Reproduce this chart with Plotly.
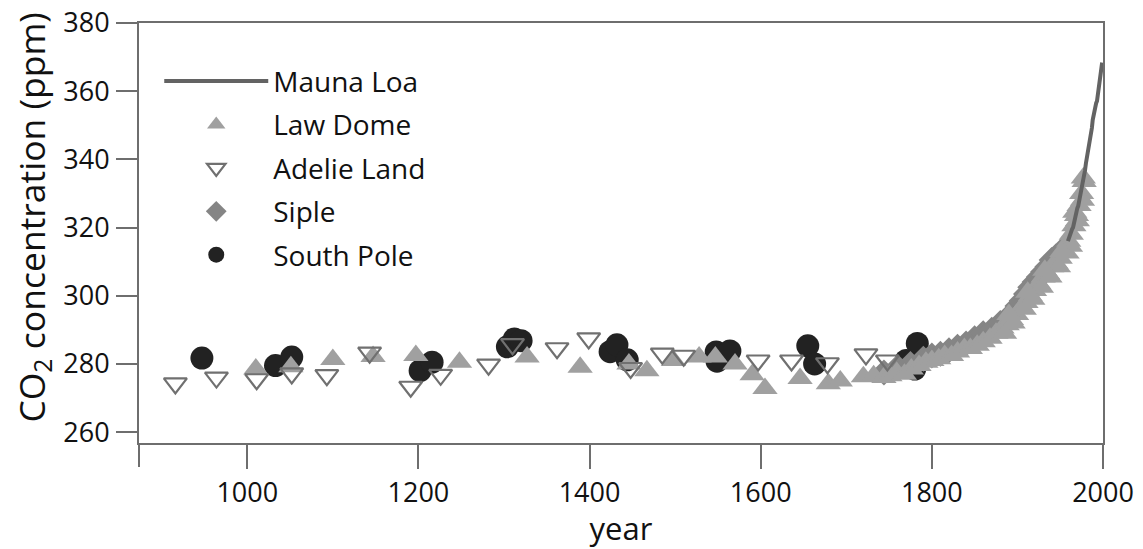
import plotly.graph_objects as go

# ---------------- data ----------------
mauna_loa_year = [1959, 1960, 1961, 1962, 1963, 1964, 1965, 1966, 1967, 1968, 1969,
                  1970, 1971, 1972, 1973, 1974, 1975, 1976, 1977, 1978, 1979, 1980,
                  1981, 1982, 1983, 1984, 1985, 1986, 1987, 1988, 1989, 1990, 1991,
                  1992, 1993, 1994, 1995, 1996, 1997, 1998, 1999]
mauna_loa_co2 = [316.0, 316.9, 317.6, 318.5, 319.0, 319.6, 320.0, 321.4, 322.2, 323.0, 324.6,
                 325.7, 326.3, 327.5, 329.7, 330.2, 331.1, 332.0, 333.8, 335.4, 336.8, 338.8,
                 340.1, 341.5, 343.1, 344.7, 346.1, 347.4, 349.2, 351.6, 353.1, 354.4, 355.6,
                 356.5, 357.1, 358.8, 360.8, 362.6, 363.7, 366.7, 368.4]

law_dome_year = [1010, 1051, 1100, 1147, 1197, 1248, 1327, 1389, 1446, 1467, 1498, 1528,
                 1547, 1570, 1590, 1605, 1646, 1679, 1693, 1720, 1732, 1744, 1751, 1759,
                 1768, 1776, 1785, 1793, 1800, 1808, 1815, 1823, 1830, 1838, 1845, 1853,
                 1860, 1868, 1875, 1882, 1888, 1893, 1899, 1905, 1910, 1915, 1920, 1925,
                 1930, 1935, 1940, 1945, 1950, 1955, 1960, 1963, 1966, 1969, 1972, 1975, 1978,
                 1885, 1895, 1908, 1918, 1928, 1938, 1948, 1958, 1962, 1970, 1976,
                 1890, 1912, 1932, 1952, 1967, 1977]
law_dome_co2 = [278.5, 279.2, 281.3, 282.2, 282.5, 280.5, 282.0, 279.0, 280.0, 278.0, 281.0, 282.0,
                282.0, 280.0, 276.8, 272.8, 275.7, 274.2, 275.0, 276.2, 276.5, 276.0, 276.5, 277.5,
                277.0, 278.5, 279.5, 280.5, 281.0, 281.5, 282.5, 282.5, 283.5, 284.5, 284.5, 285.5,
                286.5, 287.5, 289.0, 290.5, 291.5, 293.0, 294.5, 296.5, 298.0, 300.0, 301.5, 303.5,
                305.5, 306.5, 308.5, 309.5, 311.0, 313.0, 316.0, 318.0, 320.5, 323.5, 326.5, 330.0, 333.5,
                289.0, 292.0, 296.0, 299.0, 302.5, 305.5, 308.5, 312.5, 314.5, 322.0, 328.0,
                294.5, 301.0, 307.5, 313.0, 324.5, 334.5]

adelie_year = [916, 964, 1011, 1052, 1093, 1143, 1191, 1226, 1282, 1310, 1362, 1399,
               1448, 1485, 1510, 1597, 1636, 1678, 1723, 1748]
adelie_co2 = [274.3, 276.0, 275.5, 277.2, 276.7, 283.3, 273.3, 276.8, 279.8, 285.8, 284.6, 287.5,
              278.8, 283.0, 282.4, 281.0, 281.0, 280.2, 282.8, 281.0]

siple_year = [1744, 1760, 1775, 1790, 1800, 1810, 1820, 1830, 1840, 1850, 1860, 1870,
              1880, 1890, 1900, 1905, 1910, 1915, 1920, 1925, 1930, 1935, 1940, 1945, 1953]
siple_co2 = [277.5, 279.0, 280.0, 281.5, 282.5, 283.0, 284.0, 285.0, 286.0, 287.5, 289.0, 290.0,
             292.0, 294.0, 297.0, 298.5, 300.5, 302.5, 304.0, 305.5, 307.0, 308.5, 310.5, 311.5, 313.5]

south_pole_year = [947, 1033, 1052, 1202, 1216, 1304, 1312, 1320, 1424, 1432, 1444,
                   1548, 1549, 1564, 1655, 1663, 1770, 1780, 1783]
south_pole_co2 = [281.7, 279.5, 282.0, 278.0, 280.5, 285.0, 287.3, 286.8, 283.6, 285.6, 281.2,
                  283.5, 280.8, 283.8, 285.3, 280.0, 281.0, 278.5, 286.0]

x_tick_vals = [1000, 1200, 1400, 1600, 1800, 2000]
y_tick_vals = [260, 280, 300, 320, 340, 360, 380]

# ---------------- styling ----------------
AXIS_GREY = "#6e6e6e"
TEXT = "#111111"
FONT = "Open Sans"
X_MIN, X_MAX = 873.5, 2000
Y_MIN, Y_MAX = 256.8, 380
W, H = 1143, 549
M_L, M_R, M_T, M_B = 138.5, 39.5, 23, 106
PLOT_W = W - M_L - M_R
PLOT_H = H - M_T - M_B

fig = go.Figure()

# drawing order: South Pole (bottom), Siple, Law Dome, Adelie, Mauna Loa (top)
fig.add_trace(go.Scatter(
    x=south_pole_year, y=south_pole_co2, mode="markers", name="South Pole",
    legendrank=5, legendgroup="sp",
    marker=dict(symbol="circle", size=23, color="#222222", line=dict(width=0))))
fig.add_trace(go.Scatter(
    x=siple_year, y=siple_co2, mode="markers", name="Siple",
    legendrank=4, legendgroup="si",
    marker=dict(symbol="diamond", size=20, color="#858585", line=dict(width=0))))
fig.add_trace(go.Scatter(
    x=law_dome_year, y=law_dome_co2, mode="markers", name="Law Dome",
    legendrank=2, legendgroup="ld",
    marker=dict(symbol="triangle-up", size=22, color="#a0a0a0", line=dict(width=0))))
fig.add_trace(go.Scatter(
    x=adelie_year, y=adelie_co2, mode="markers", name="Adelie Land",
    legendrank=3, legendgroup="al",
    marker=dict(symbol="triangle-down-open", size=20, color="#707070", line=dict(width=2.2))))
fig.add_trace(go.Scatter(
    x=mauna_loa_year, y=mauna_loa_co2, mode="lines", name="Mauna Loa",
    legendrank=1, legendgroup="ml",
    line=dict(color="#636363", width=4)))

# left frame line continues below the box like the x ticks do
fig.add_shape(type="line", xref="paper", yref="paper",
              x0=0, x1=0, y0=0, y1=-24 / PLOT_H,
              line=dict(color=AXIS_GREY, width=2))

# y-axis title (placed as an annotation so it can sit slightly above centre, as in the reference)
fig.add_annotation(
    text="CO<sub>2</sub> concentration (ppm)", textangle=-90,
    xref="paper", yref="paper", x=-106.5 / PLOT_W, y=1 - 195 / PLOT_H,
    xanchor="center", yanchor="middle", showarrow=False,
    font=dict(size=35.5, family=FONT, color=TEXT))

fig.update_layout(
    width=W, height=H,
    margin=dict(l=M_L, r=M_R, t=M_T, b=M_B, autoexpand=False),
    paper_bgcolor="white", plot_bgcolor="white",
    font=dict(family=FONT, color=TEXT, size=27),
    showlegend=True,
    legend=dict(
        x=0.021, y=0.9205, xanchor="left", yanchor="top",
        bgcolor="rgba(0,0,0,0)", borderwidth=0,
        font=dict(family=FONT, size=28, color=TEXT),
        itemwidth=104, traceorder="grouped", tracegroupgap=4,
    ),
    xaxis=dict(
        range=[X_MIN, X_MAX], automargin=False,
        tickmode="array",
        tickvals=x_tick_vals,
        ticktext=[str(v) for v in x_tick_vals],
        ticks="outside", ticklen=24, tickwidth=2, tickcolor=AXIS_GREY,
        showline=True, linewidth=2, linecolor=AXIS_GREY, mirror=True,
        showgrid=False, zeroline=False,
        tickfont=dict(size=27, family=FONT, color=TEXT),
        ticklabelstandoff=1, ticklabeloverflow="allow",
        title=dict(text="year", font=dict(size=31, family=FONT, color=TEXT), standoff=0),
    ),
    yaxis=dict(
        range=[Y_MIN, Y_MAX], automargin=False,
        tickmode="array",
        tickvals=y_tick_vals,
        ticktext=[str(v) for v in y_tick_vals],
        ticks="outside", ticklen=21, tickwidth=2, tickcolor=AXIS_GREY,
        showline=True, linewidth=2, linecolor=AXIS_GREY, mirror=True,
        showgrid=False, zeroline=False,
        tickfont=dict(size=27, family=FONT, color=TEXT),
        ticklabelstandoff=1, ticklabeloverflow="allow",
    ),
)

# remove the browser's default 8px body margin so the figure fills the window exactly
fig.write_html("out.html",
               config={"displayModeBar": False},
               post_script="document.body.style.margin='0';document.body.style.padding='0';")
